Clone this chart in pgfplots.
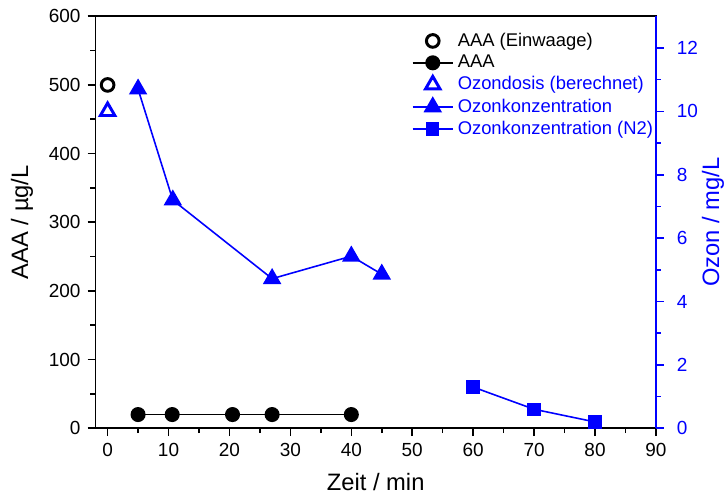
\documentclass[border=0pt]{standalone}
\usepackage{fontspec}
\setmainfont{Liberation Sans}
\usepackage{pgfplots}
\pgfplotsset{compat=1.18}

\pgfplotsset{
  common/.style={
    scale only axis, width=283.5pt, height=208.4pt,
    xmin=-2, xmax=90,
    tick align=outside,
    major tick length=4pt, minor tick length=2.5pt,
    ticklabel style={font=\fontsize{9.6}{11}\selectfont},
    label style={font=\fontsize{12}{14}\selectfont},
    /pgf/number format/assume math mode=true,
  },
}

\begin{document}
\begin{tikzpicture}
\begin{axis}[common,
  ymin=0, ymax=600,
  xtick={0,10,...,90}, ytick={0,100,...,600},
  minor x tick num=1, minor y tick num=1,
  xtick pos=bottom, ytick pos=left,
  axis line style={line width=0.9pt},
  every tick/.style={black, line width=0.8pt},
  xlabel={Zeit / min}, ylabel={AAA / µg/L},
  xlabel style={yshift=-3pt, inner sep=2pt}, ylabel style={yshift=3pt, inner sep=1.5pt},
]
\addplot[only marks, mark=o, mark size=3.2pt, line width=1.5pt] coordinates {(0,500)};
\addplot[black, line width=0.8pt, mark=*, mark size=3.4pt] coordinates {
(5,20) (10.6,20) (20.5,20) (27,20) (40,20)};
\end{axis}

\begin{axis}[common,
  ymin=0, ymax=13,
  axis x line=none, axis y line*=right,
  ytick={0,2,...,12}, minor y tick num=1,
  y axis line style={blue, line width=0.9pt},
  every tick/.style={blue, line width=0.8pt},
  yticklabel style={blue, xshift=3pt},
  ylabel={Ozon / mg/L}, ylabel style={blue, yshift=2.5pt, inner sep=1pt},
  legend cell align=left,
  legend style={draw=none, fill=none, at={(0.553,0.98)}, anchor=north west,
    font=\fontsize{9.3}{10}\selectfont, row sep=-1pt},
  legend image code/.code={\draw[mark repeat=2, mark phase=2]
    plot coordinates {(0cm,0cm) (0.36cm,0cm) (0.72cm,0cm)};},
]
\addlegendimage{black, only marks, mark=o, mark size=3.2pt, line width=1.5pt}
\addlegendentry{AAA (Einwaage)}
\addlegendimage{black, line width=0.8pt, mark=*, mark size=3.4pt}
\addlegendentry{AAA}
\addplot[blue, only marks, mark=triangle, mark size=4.2pt, line width=1.5pt] coordinates {(0,10)};
\addlegendentry{\textcolor{blue}{Ozondosis (berechnet)}}
\addplot[blue, line width=0.8pt, mark=triangle*, mark size=4.6pt] coordinates {
(5,10.7) (10.7,7.2) (27,4.72) (40,5.43) (45,4.86)};
\addlegendentry{\textcolor{blue}{Ozonkonzentration}}
\addplot[blue, line width=0.8pt, mark=square*, mark size=3pt] coordinates {
(60,1.3) (70,0.6) (80,0.2)};
\addlegendentry{\textcolor{blue}{Ozonkonzentration (N2)}}
\end{axis}
\path ([yshift=1.5pt]current bounding box.north);
\path ([xshift=-4pt]current bounding box.west);
\end{tikzpicture}
\end{document}
